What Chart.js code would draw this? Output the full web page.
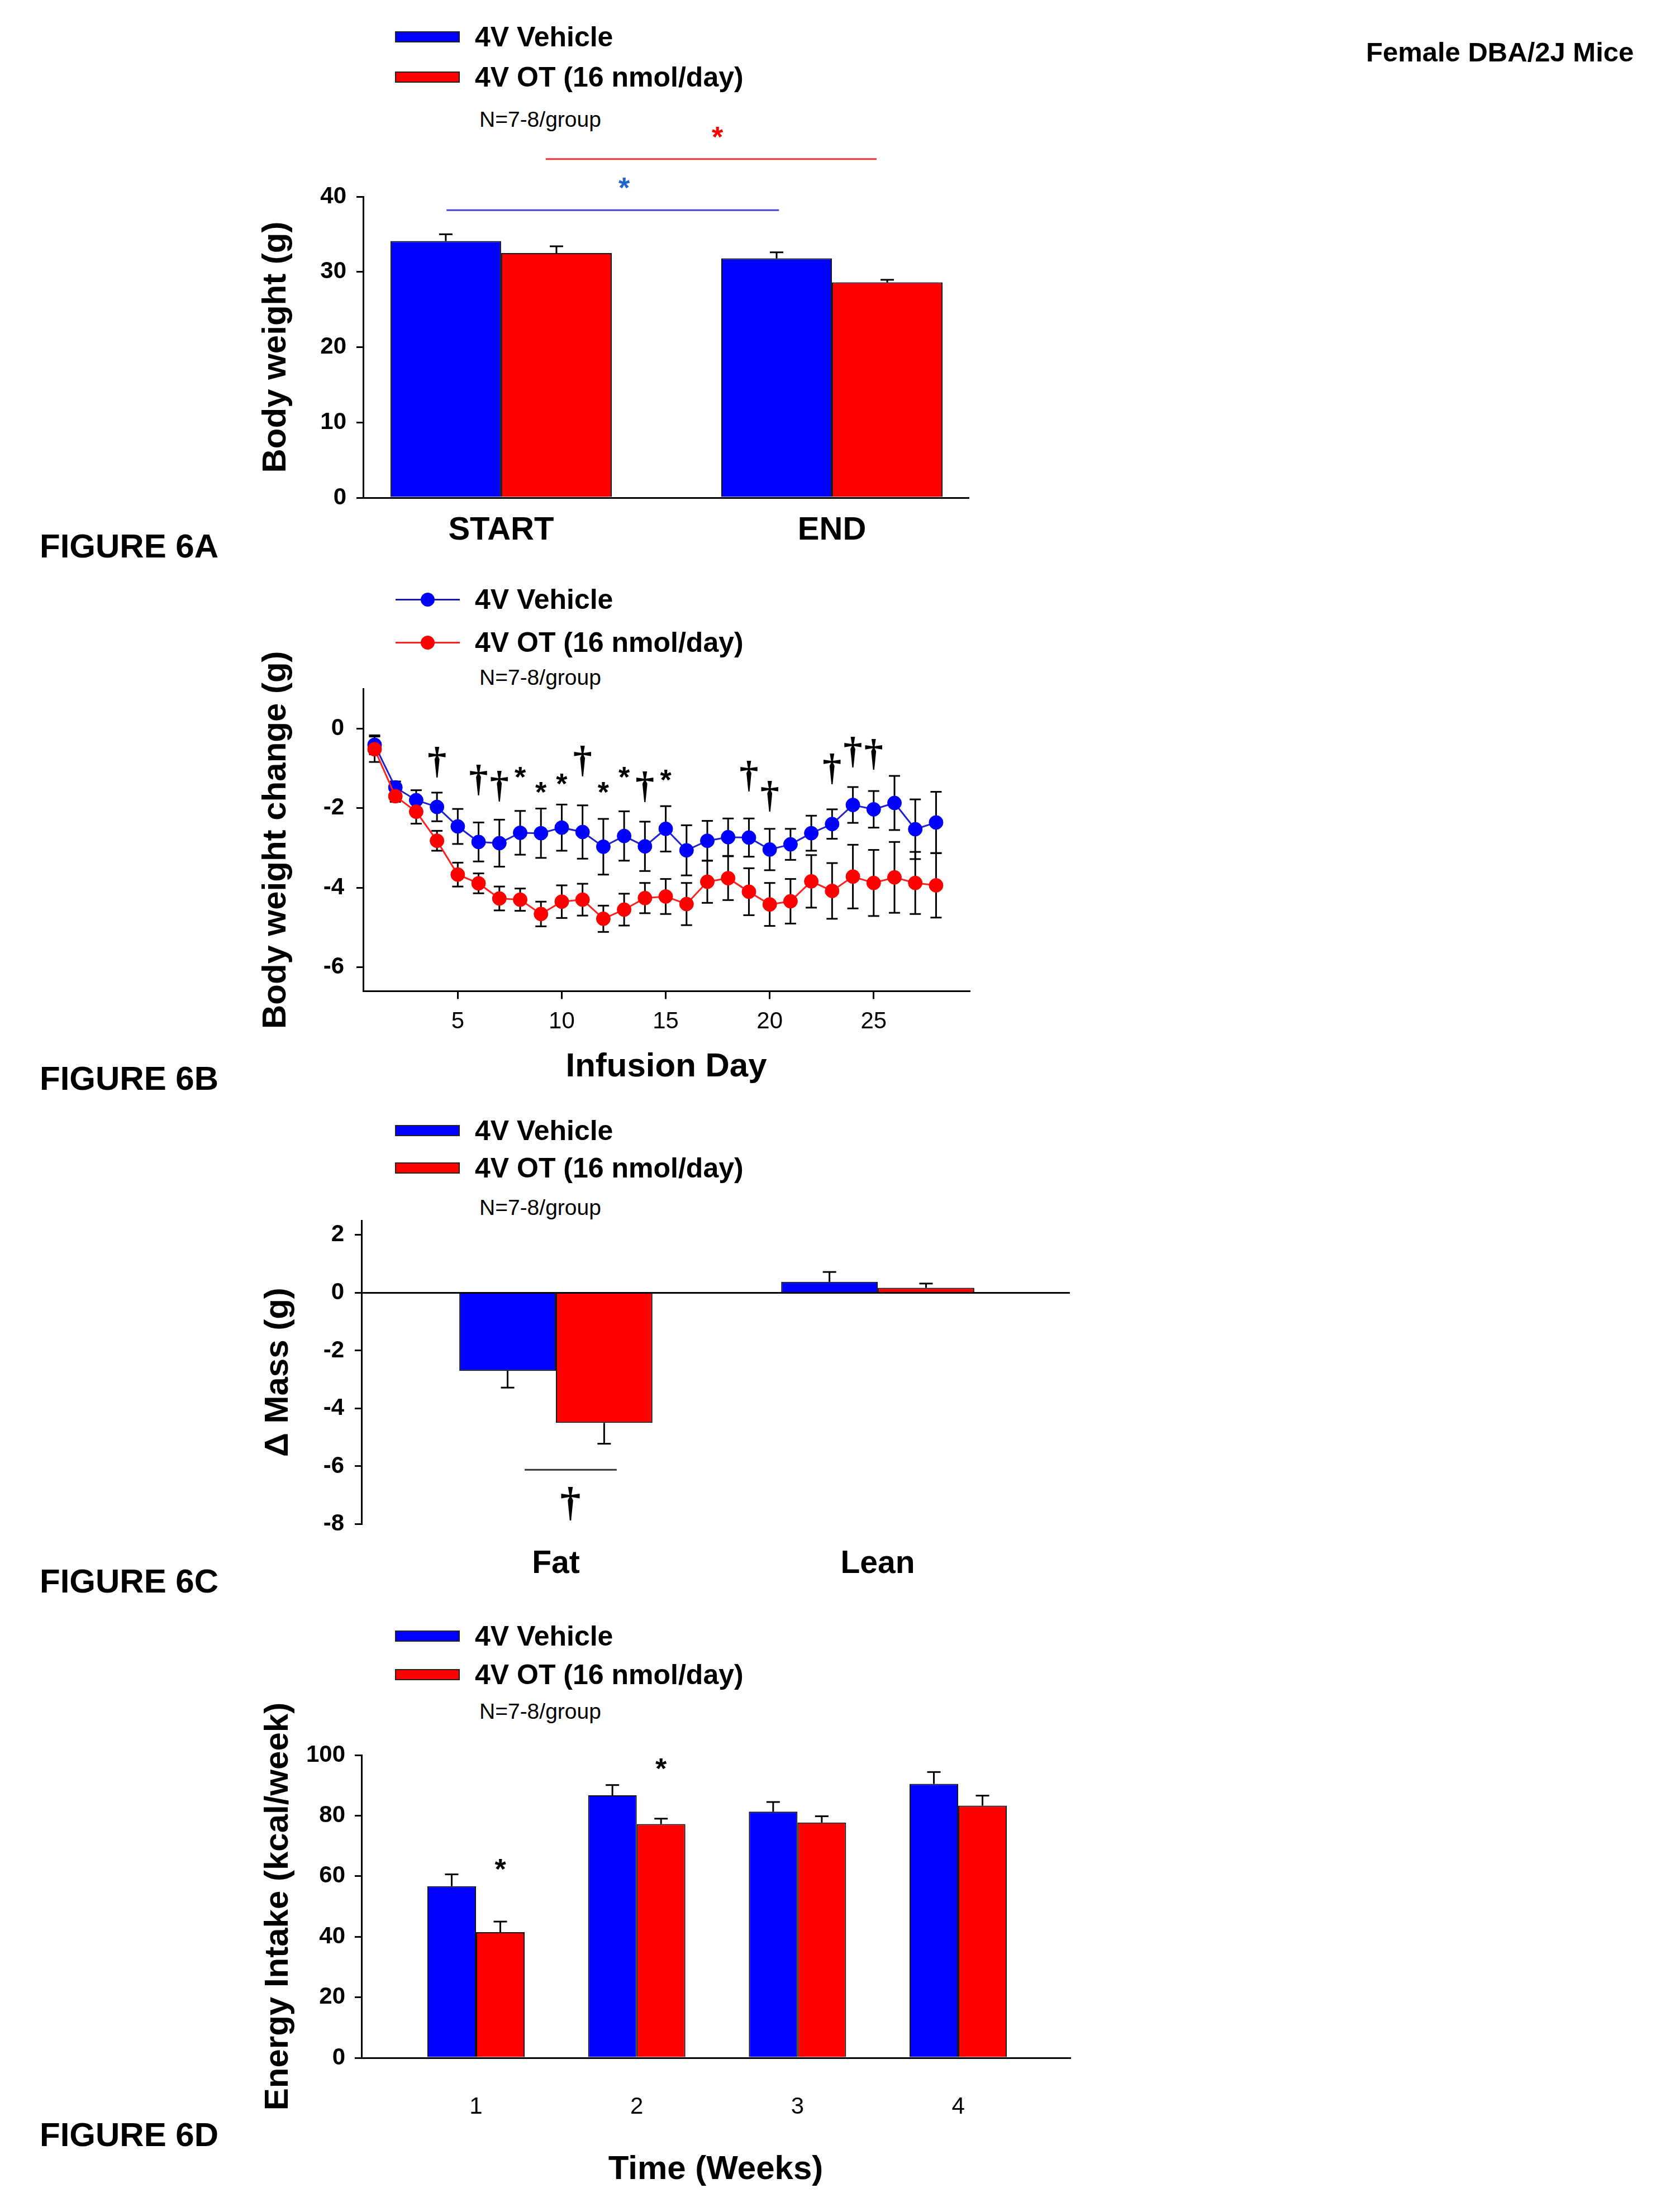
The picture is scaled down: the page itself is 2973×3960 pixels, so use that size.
<!DOCTYPE html>
<html>
<head>
<meta charset="utf-8">
<script src="https://cdn.jsdelivr.net/npm/chart.js@4/dist/chart.umd.min.js"></script>
<style>
  html, body { margin: 0; padding: 0; background: #fff; }
  #page { position: relative; width: 2973px; height: 3960px; overflow: hidden;
          font-family: "Liberation Sans", Arial, sans-serif; color: #000; }
  .txt { position: absolute; white-space: nowrap; line-height: 1; transform: translateY(-50%); }
  canvas { position: absolute; left: 0; }
</style>
</head>
<body>
<div id="page"></div>
<script>
// ---- data ----
const seriesNames = ["4V Vehicle", "4V OT (16 nmol/day)"];
const seriesColors = ["#0000FF", "#FF0000"];
const groupNote = "N=7-8/group";

// 6A body weight
const phaseLabels = ["START", "END"];
const bwVehicle = [34.1, 31.8];
const bwVehicleSem = [0.9, 0.8];
const bwOT = [32.5, 28.6];
const bwOTSem = [0.9, 0.35];
// significance bars: [from, to] in category units, level in g
const bwBracketFrom = [-0.165, 0.135];
const bwBracketTo = [0.84, 1.135];
const bwBracketLevel = [38.2, 45.0];
const bwStarX = [0.372, 0.654];
const bwStarLevel = [41.8, 48.5];

// 6B body weight change by infusion day
const infusionDays = [1, 2, 3, 4, 5, 6, 7, 8, 9, 10, 11, 12, 13, 14, 15, 16, 17, 18, 19, 20, 21, 22, 23, 24, 25, 26, 27, 28];
const changeVehicle = [-0.41, -1.48, -1.80, -1.97, -2.46, -2.85, -2.88, -2.62, -2.63, -2.49, -2.60, -2.97, -2.70, -2.96,
                       -2.52, -3.06, -2.82, -2.73, -2.74, -3.04, -2.91, -2.63, -2.40, -1.92, -2.03, -1.87, -2.53, -2.36];
const changeVehicleSem = [0.24, 0.15, 0.25, 0.36, 0.44, 0.49, 0.59, 0.55, 0.62, 0.58, 0.67, 0.70, 0.62, 0.62,
                          0.57, 0.63, 0.50, 0.47, 0.48, 0.52, 0.39, 0.44, 0.37, 0.45, 0.46, 0.68, 0.75, 0.77];
const changeOT = [-0.52, -1.70, -2.09, -2.82, -3.67, -3.89, -4.27, -4.30, -4.66, -4.35, -4.30, -4.78, -4.55, -4.26,
                  -4.22, -4.41, -3.85, -3.76, -4.10, -4.42, -4.34, -3.84, -4.08, -3.72, -3.88, -3.74, -3.88, -3.94];
const changeOTSem = [0.32, 0.14, 0.30, 0.25, 0.30, 0.25, 0.30, 0.28, 0.31, 0.41, 0.40, 0.33, 0.40, 0.38,
                     0.44, 0.53, 0.53, 0.55, 0.59, 0.54, 0.56, 0.66, 0.70, 0.80, 0.83, 0.89, 0.78, 0.81];
const dayTicks = [5, 10, 15, 20, 25];
const changeTicks = [-6, -4, -2, 0];
const sigDays = [4, 6, 7, 8, 9, 10, 11, 12, 13, 14, 15, 19, 20, 23, 24, 25];
const sigMarks = ["†", "†", "†", "*", "*", "*", "†", "*", "*", "†", "*", "†", "†", "†", "†", "†"];
const sigLevel = [-0.84, -1.29, -1.45, -1.11, -1.49, -1.28, -0.82, -1.49, -1.10, -1.46, -1.17, -1.20, -1.70, -1.01, -0.59, -0.65];

// 6C body composition change
const compLabels = ["Fat", "Lean"];
const massVehicle = [-2.7, 0.38];
const massVehicleSem = [0.58, 0.34];
const massOT = [-4.5, 0.17];
const massOTSem = [0.72, 0.15];
const massTicks = [-8, -6, -4, -2, 0, 2];
const massBracket = [-0.097, 0.189];
const massBracketLevel = -6.12;
const massDaggerX = 0.045;
const massDaggerLevel = -7.3;

// 6D energy intake by week
const weekNums = [1, 2, 3, 4];
const intakeVehicle = [56.7, 86.7, 81.3, 90.5];
const intakeVehicleSem = [3.9, 3.4, 3.2, 3.9];
const intakeOT = [41.5, 77.2, 77.7, 83.3];
const intakeOTSem = [3.5, 1.8, 2.1, 3.3];
const intakeStarWeek = [0, 1];
const intakeStarLevel = [63.8, 97.0];

// ---- page helpers ----
const page = document.getElementById("page");
const sansFont = "'Liberation Sans', Arial, sans-serif";

function addText(str, x, y, size, weight) {
    const d = document.createElement("div");
    d.className = "txt";
    d.textContent = str;
    d.style.left = x + "px";
    d.style.top = y + "px";
    d.style.fontSize = size + "px";
    d.style.fontWeight = weight;
    page.appendChild(d);
}

function addBox(x, y, w, h, css) {
    const d = document.createElement("div");
    d.style.position = "absolute";
    d.style.left = x + "px";
    d.style.top = y + "px";
    d.style.width = w + "px";
    d.style.height = h + "px";
    d.style.boxSizing = "border-box";
    Object.assign(d.style, css);
    page.appendChild(d);
}

function addCanvas(top, height) {
    const c = document.createElement("canvas");
    c.width = 2000;
    c.height = height;
    c.style.top = top + "px";
    c.style.width = "2000px";
    c.style.height = height + "px";
    page.appendChild(c);
    return c;
}

// bar legend (swatches) or line legend (line + dot)
function addLegend(ys, withDots) {
    seriesNames.forEach((name, i) => {
        if (withDots) {
            addBox(708, ys[i] - 1.5, 115, 3, { background: i === 0 ? "#1a1aa8" : "#ff2020" });
            addBox(753, ys[i] - 12.5, 25, 25, { background: seriesColors[i], borderRadius: "50%" });
        } else {
            addBox(707, ys[i] - 10, 116, 20, { background: seriesColors[i], border: "2px solid #222" });
        }
        addText(name, 850, ys[i], 50, "bold");
    });
    addText(groupNote, 858, ys[2], 39, "normal");
}

function drawGlyph(ctx, sym, x, yc, font, color) {
    ctx.save();
    ctx.font = font;
    ctx.fillStyle = color;
    ctx.textAlign = "center";
    ctx.textBaseline = "alphabetic";
    const m = ctx.measureText(sym);
    ctx.fillText(sym, x, yc + (m.actualBoundingBoxAscent - m.actualBoundingBoxDescent) / 2);
    ctx.restore();
}

const daggerFont = "bold 68px 'Liberation Serif', 'Times New Roman', serif";
const starFont = "bold 52px " + sansFont;

// ---- Chart.js setup ----
Chart.defaults.font.family = sansFont;
Chart.defaults.color = "#000";
Chart.defaults.animation = false;
Chart.defaults.events = [];
Chart.defaults.plugins.legend.display = false;
Chart.defaults.plugins.tooltip.enabled = false;

// error bars: sem stored on each dataset
const errorBars = {
    id: "errorBars",
    beforeDatasetsDraw(chart, args, opts) { if (opts.both) drawErrors(chart, opts); },
    afterDatasetsDraw(chart, args, opts) { if (!opts.both) drawErrors(chart, opts); }
};

function drawErrors(chart, opts) {
    const ctx = chart.ctx;
    const y = chart.scales.y;
    const cap = opts.cap || 12;
    ctx.save();
    ctx.strokeStyle = "#000";
    ctx.lineWidth = 3;
    chart.data.datasets.forEach((ds, di) => {
        if (!ds.sem) return;
        chart.getDatasetMeta(di).data.forEach((el, i) => {
            const v = ds.data[i].y;
            const s = ds.sem[i];
            let ends;
            if (opts.both) {
                ends = [y.getPixelForValue(v + s), y.getPixelForValue(v - s)];
            } else {
                ends = [el.y, y.getPixelForValue(v >= 0 ? v + s : v - s)];
            }
            ctx.beginPath();
            ctx.moveTo(el.x, ends[0]);
            ctx.lineTo(el.x, ends[1]);
            ctx.stroke();
            const caps = opts.both ? ends : [ends[1]];
            caps.forEach(cy => {
                ctx.beginPath();
                ctx.moveTo(el.x - cap, cy);
                ctx.lineTo(el.x + cap, cy);
                ctx.stroke();
            });
        });
    });
    ctx.restore();
}

function valueAxis(o) {
    return {
        type: "linear",
        min: o.min,
        max: o.max,
        afterBuildTicks: s => { s.ticks = o.ticks.map(v => ({ value: v })); },
        afterFit: s => { s.width = o.width; },
        ticks: { font: { size: 42, weight: "bold" }, padding: o.pad, callback: v => String(v) },
        grid: {
            display: true,
            drawOnChartArea: !!o.zeroLine,
            color: o.zeroLine ? (c => (c.tick && c.tick.value === 0 ? "#000" : "rgba(0,0,0,0)")) : "#000",
            tickColor: "#000",
            tickLength: 12,
            lineWidth: 3
        },
        border: { display: true, color: "#000", width: 3 },
        title: { display: true, text: o.title, font: { size: 60, weight: "bold" }, padding: 0, color: "#000" }
    };
}

function indexAxis(o) {
    return {
        type: "linear",
        min: o.min,
        max: o.max,
        offset: false,
        afterBuildTicks: s => { s.ticks = o.ticks.map(v => ({ value: v })); },
        afterFit: s => { s.height = o.height; },
        ticks: { font: o.font, padding: o.pad, autoSkip: false, maxRotation: 0, callback: o.label },
        grid: {
            display: !!o.tickLength,
            offset: false,
            drawOnChartArea: false,
            drawTicks: !!o.tickLength,
            tickLength: o.tickLength || 0,
            color: "#000",
            lineWidth: 3
        },
        border: { display: o.border !== false, color: "#000", width: 3 },
        title: o.title
            ? { display: true, text: o.title, font: { size: 60, weight: "bold" }, padding: 0, color: "#000" }
            : { display: false }
    };
}

function barSet(i, xs, vals, sem, catPct) {
    return {
        label: seriesNames[i],
        data: xs.map((x, k) => ({ x: x, y: vals[k] })),
        sem: sem,
        backgroundColor: seriesColors[i],
        borderColor: "#111",
        borderWidth: 2,
        borderSkipped: "start",
        categoryPercentage: catPct,
        barPercentage: 1
    };
}

// ---- static text ----
addText("Female DBA/2J Mice", 2445, 93, 49, "bold");
addText("FIGURE 6A", 71, 978, 60, "bold");
addText("FIGURE 6B", 71, 1931, 60, "bold");
addText("FIGURE 6C", 71, 2831, 60, "bold");
addText("FIGURE 6D", 71, 3822, 60, "bold");

addLegend([66, 138, 213], false);
addLegend([1073, 1150, 1212], true);
addLegend([2024, 2091, 2161], false);
addLegend([2929, 2998, 3063], false);

// ---- 6A ----
const phasePos = phaseLabels.map((_, i) => i);
new Chart(addCanvas(200, 820), {
    type: "bar",
    data: {
        datasets: [
            barSet(0, phasePos, bwVehicle, bwVehicleSem, 0.669),
            barSet(1, phasePos, bwOT, bwOTSem, 0.669)
        ]
    },
    options: {
        responsive: false,
        layout: { padding: { top: 152, left: 458, right: 267, bottom: 29 } },
        scales: {
            x: indexAxis({ min: -0.417, max: 1.412, ticks: phasePos, height: 100, pad: 24,
                           font: { size: 58, weight: "bold" }, label: v => phaseLabels[v] }),
            y: valueAxis({ min: 0, max: 40, ticks: [0, 10, 20, 30, 40], width: 192, pad: 18, title: "Body weight (g)" })
        },
        plugins: { errorBars: { both: false, cap: 12 } }
    },
    plugins: [errorBars, {
        id: "bwSig",
        afterDraw(chart) {
            const { ctx, scales: { x, y } } = chart;
            const lineColors = ["#4a3fd6", "#ee3030"];
            const starColors = ["#1f66cc", "#ff0000"];
            bwBracketLevel.forEach((lvl, i) => {
                ctx.save();
                ctx.strokeStyle = lineColors[i];
                ctx.lineWidth = 3;
                ctx.beginPath();
                ctx.moveTo(x.getPixelForValue(bwBracketFrom[i]), y.getPixelForValue(lvl));
                ctx.lineTo(x.getPixelForValue(bwBracketTo[i]), y.getPixelForValue(lvl));
                ctx.stroke();
                ctx.restore();
                drawGlyph(ctx, "*", x.getPixelForValue(bwStarX[i]), y.getPixelForValue(bwStarLevel[i]), starFont, starColors[i]);
            });
        }
    }]
});

// ---- 6B ----
new Chart(addCanvas(1130, 820), {
    type: "line",
    data: {
        datasets: [
            {
                label: seriesNames[0],
                data: infusionDays.map((d, k) => ({ x: d, y: changeVehicle[k] })),
                sem: changeVehicleSem,
                borderColor: "#2020d0",
                borderWidth: 3,
                pointRadius: 12.5,
                pointBackgroundColor: seriesColors[0],
                pointBorderColor: seriesColors[0],
                pointBorderWidth: 1,
                tension: 0,
                order: 1
            },
            {
                label: seriesNames[1],
                data: infusionDays.map((d, k) => ({ x: d, y: changeOT[k] })),
                sem: changeOTSem,
                borderColor: "#ff2020",
                borderWidth: 3,
                pointRadius: 12.5,
                pointBackgroundColor: seriesColors[1],
                pointBorderColor: seriesColors[1],
                pointBorderWidth: 1,
                tension: 0,
                order: 0
            }
        ]
    },
    options: {
        responsive: false,
        layout: { padding: { top: 103, left: 458, right: 265, bottom: 4 } },
        scales: {
            x: indexAxis({ min: 0.45, max: 29.6, ticks: dayTicks, height: 171.5, pad: 16, tickLength: 14,
                           font: { size: 42 }, label: v => String(v), title: "Infusion Day" }),
            y: valueAxis({ min: -6.6, max: 1, ticks: changeTicks, width: 192, pad: 22, title: "Body weight change (g)" })
        },
        plugins: { errorBars: { both: true, cap: 10 } }
    },
    plugins: [errorBars, {
        id: "daySig",
        afterDraw(chart) {
            const { ctx, scales: { x, y } } = chart;
            sigDays.forEach((d, i) => {
                const font = sigMarks[i] === "*" ? starFont : daggerFont;
                drawGlyph(ctx, sigMarks[i], x.getPixelForValue(d), y.getPixelForValue(sigLevel[i]), font, "#000");
            });
        }
    }]
});

// ---- 6C ----
const compPos = compLabels.map((_, i) => i);
new Chart(addCanvas(2130, 740), {
    type: "bar",
    data: {
        datasets: [
            barSet(0, compPos, massVehicle, massVehicleSem, 0.60),
            barSet(1, compPos, massOT, massOTSem, 0.60)
        ]
    },
    options: {
        responsive: false,
        layout: { padding: { top: 55, left: 462, right: 85, bottom: 21.5 } },
        scales: {
            x: indexAxis({ min: -0.604, max: 1.597, ticks: compPos, height: 120, pad: 38, border: false,
                           font: { size: 57, weight: "bold" }, label: v => compLabels[v] }),
            y: valueAxis({ min: -8, max: 2.5, ticks: massTicks, width: 185, pad: 19, zeroLine: true, title: "Δ Mass (g)" })
        },
        plugins: { errorBars: { both: false, cap: 12 } }
    },
    plugins: [errorBars, {
        id: "massSig",
        afterDraw(chart) {
            const { ctx, scales: { x, y } } = chart;
            const ly = y.getPixelForValue(massBracketLevel);
            ctx.save();
            ctx.strokeStyle = "#333";
            ctx.lineWidth = 3;
            ctx.beginPath();
            ctx.moveTo(x.getPixelForValue(massBracket[0]), ly);
            ctx.lineTo(x.getPixelForValue(massBracket[1]), ly);
            ctx.stroke();
            ctx.restore();
            drawGlyph(ctx, "†", x.getPixelForValue(massDaggerX), y.getPixelForValue(massDaggerLevel),
                      "bold 74px 'Liberation Serif', 'Times New Roman', serif", "#000");
        }
    }]
});

// ---- 6D ----
new Chart(addCanvas(3020, 900), {
    type: "bar",
    data: {
        datasets: [
            barSet(0, weekNums, intakeVehicle, intakeVehicleSem, 0.605),
            barSet(1, weekNums, intakeOT, intakeOTSem, 0.605)
        ]
    },
    options: {
        responsive: false,
        layout: { padding: { top: 122, left: 462, right: 85, bottom: 0 } },
        scales: {
            x: indexAxis({ min: 0.2875, max: 4.695, ticks: weekNums, height: 236, pad: 63,
                           font: { size: 42 }, label: v => String(v), title: "Time (Weeks)" }),
            y: valueAxis({ min: 0, max: 100, ticks: [0, 20, 40, 60, 80, 100], width: 185, pad: 17,
                           title: "Energy Intake (kcal/week)" })
        },
        plugins: { errorBars: { both: false, cap: 12 } }
    },
    plugins: [errorBars, {
        id: "intakeSig",
        afterDraw(chart) {
            const { ctx, scales: { y } } = chart;
            const redBars = chart.getDatasetMeta(1).data;
            intakeStarWeek.forEach((w, i) => {
                drawGlyph(ctx, "*", redBars[w].x, y.getPixelForValue(intakeStarLevel[i]), starFont, "#000");
            });
        }
    }]
});
</script>
</body>
</html>
